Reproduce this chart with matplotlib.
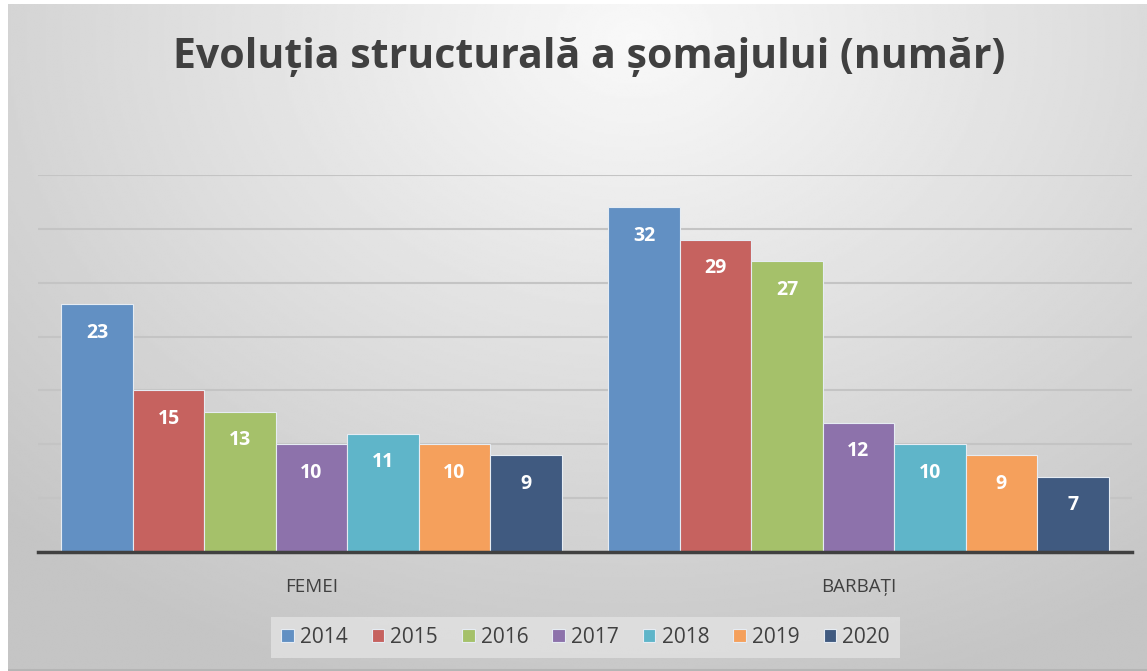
import numpy as np
import matplotlib.pyplot as plt

plt.rcParams['font.family'] = ['Open Sans', 'DejaVu Sans']

categories = ["FEMEI", "BARBAȚI"]
years = ["2014", "2015", "2016", "2017", "2018", "2019", "2020"]
femei = [23, 15, 13, 10, 11, 10, 9]
barbati = [32, 29, 27, 12, 10, 9, 7]
colors = ["#6290c3", "#c6625f", "#a5c16a", "#8d72ab", "#5fb5c9", "#f5a05c", "#405a80"]

W, H = 1147, 671
fig = plt.figure(figsize=(W / 100, H / 100), dpi=100)
fig.patch.set_facecolor("white")

# radial grey background, lighter near the top centre
bg = fig.add_axes([8 / W, 0, 1 - 8 / W, 1 - 4 / H])
yy, xx = np.mgrid[0:1:300j, 0:1:500j]
dist = np.sqrt(((xx - 0.55) * 1.3) ** 2 + ((yy - 0.05) * 1.0) ** 2)
shade = np.clip(0.975 - 0.2 * dist, 0.77, 0.975)
bg.imshow(shade, cmap="gray", vmin=0, vmax=1, aspect="auto",
          extent=[0, 1, 1, 0], interpolation="bilinear")
bg.set_xlim(0, 1)
bg.set_ylim(1, 0)
bg.axis("off")
bg.plot([0, 1], [0.002, 0.002], color="#b5b5b5", lw=1.5, transform=bg.transAxes)

ax = fig.add_axes([38 / W, (H - 552) / H, 1094 / W, 377 / H])
ax.patch.set_alpha(0)

x = np.arange(len(categories))
width = 0.1306
for i, year in enumerate(years):
    vals = [femei[i], barbati[i]]
    pos = x + (i - 3) * width
    bars = ax.bar(pos, vals, width, color=colors[i], edgecolor="#e6ecf3",
                  linewidth=0.8, label=year, zorder=2)
    for b, v in zip(bars, vals):
        ax.annotate(str(v), (b.get_x() + b.get_width() / 2, v),
                    xytext=(0, -20.5), textcoords="offset points",
                    ha="center", va="center", color="white",
                    fontsize=14, fontweight="bold", zorder=3)

ax.set_xlim(-0.5, 1.5)
ax.set_ylim(0, 35)
ax.set_yticks(np.arange(5, 36, 5))
ax.yaxis.grid(True, color="#c4c4c4", lw=1.5, zorder=0)
ax.tick_params(axis="y", left=False, labelleft=False)
ax.set_xticks(x)
ax.set_xticklabels(categories, fontsize=13.5, color="#404040")
ax.tick_params(axis="x", length=0, pad=19)
for s in ["top", "right", "left"]:
    ax.spines[s].set_visible(False)
ax.spines["bottom"].set_color("#404040")
ax.spines["bottom"].set_linewidth(2.5)
ax.spines["bottom"].set_zorder(4)

fig.text(0.514, 0.914, "Evoluția structurală a șomajului (număr)",
         ha="center", va="center", fontsize=29.5, fontweight="bold",
         color="#404040")

leg = fig.legend(loc="center", bbox_to_anchor=(585.5 / W, 1 - 637.5 / H),
                 ncol=7, frameon=True, fontsize=15, handlelength=0.6,
                 handleheight=0.6, handletextpad=0.3, columnspacing=1.15,
                 borderpad=0.5)
leg.get_frame().set_facecolor("#e2e2e2")
leg.get_frame().set_edgecolor("none")
leg.get_frame().set_alpha(0.8)
leg.get_frame().set_boxstyle("square", pad=0)
for t in leg.get_texts():
    t.set_color("#404040")

fig.savefig("out.png", dpi=100)
